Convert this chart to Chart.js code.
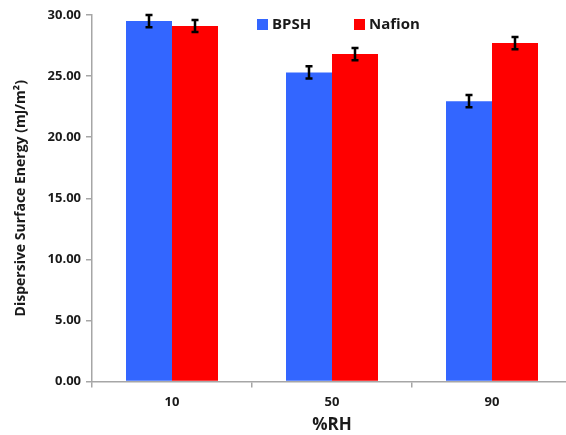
<!DOCTYPE html>
<html>
<head>
<meta charset="utf-8">
<script src="https://cdn.jsdelivr.net/npm/chart.js@4.4.0/dist/chart.umd.min.js"></script>
<style>
  html, body { margin: 0; padding: 0; overflow: hidden; background: #fff; width: 566px; height: 435px; }
  #wrap { position: absolute; left: 0; top: 0; width: 600px; height: 435px; }
</style>
</head>
<body>
<div id="wrap"><canvas id="chart" width="600" height="435"></canvas></div>
<script>
/* ─── Dispersive surface energy vs %RH ─────────────────────────── */

const categories  = ['10', '50', '90'];
const bpshValues  = [29.5, 25.3, 22.95];
const nafionValues = [29.1, 26.8, 27.7];
const bpshErrors  = [0.5, 0.5, 0.5];
const nafionErrors = [0.5, 0.5, 0.5];
const yTicks = [0, 5, 10, 15, 20, 25, 30];

const FONT = "'Open Sans', 'Noto Sans', sans-serif";
const AXIS_GRAY = '#a6a6a6';

// error bars drawn from the bar elements + y scale
const errorBars = {
  id: 'errorBars',
  afterDatasetsDraw(chart) {
    const { ctx } = chart;
    const y = chart.scales.y;
    chart.data.datasets.forEach((ds, i) => {
      const meta = chart.getDatasetMeta(i);
      meta.data.forEach((bar, j) => {
        const v = ds.data[j];
        const e = ds.errors[j];
        const top = y.getPixelForValue(v + e);
        const bot = y.getPixelForValue(v - e);
        ctx.save();
        ctx.strokeStyle = '#000';
        ctx.lineWidth = 2.5;
        ctx.beginPath();
        ctx.moveTo(bar.x, top);
        ctx.lineTo(bar.x, bot);
        ctx.moveTo(bar.x - 3.5, top);
        ctx.lineTo(bar.x + 3.5, top);
        ctx.moveTo(bar.x - 3.5, bot);
        ctx.lineTo(bar.x + 3.5, bot);
        ctx.stroke();
        ctx.restore();
      });
    });
  }
};

// legend sits inside the plot, top middle
const innerLegend = {
  id: 'innerLegend',
  afterDraw(chart) {
    const { ctx } = chart;
    const spots = [257, 354];
    ctx.save();
    ctx.font = `bold 15px ${FONT}`;
    ctx.textBaseline = 'middle';
    chart.data.datasets.forEach((ds, i) => {
      const x = spots[i];
      ctx.fillStyle = ds.backgroundColor;
      ctx.fillRect(x, 19, 11, 11);
      ctx.fillStyle = '#1a1a1a';
      ctx.fillText(ds.label, x + 15, 25);
    });
    ctx.restore();
  }
};

new Chart(document.getElementById('chart'), {
  type: 'bar',
  data: {
    labels: categories,
    datasets: [
      { label: 'BPSH',   data: bpshValues,   errors: bpshErrors,   backgroundColor: '#3366ff' },
      { label: 'Nafion', data: nafionValues, errors: nafionErrors, backgroundColor: '#ff0000' }
    ]
  },
  plugins: [errorBars, innerLegend],
  options: {
    responsive: false,
    animation: false,
    layout: { padding: { top: 15, right: 28, left: 0, bottom: 0 } },
    datasets: { bar: { categoryPercentage: 0.575, barPercentage: 1 } },
    plugins: { legend: { display: false }, tooltip: { enabled: false } },
    scales: {
      x: {
        afterFit: s => { s.height = 53.5; },
        border: { color: AXIS_GRAY, width: 1.5 },
        grid: { drawOnChartArea: false, drawTicks: true, tickLength: 6, color: AXIS_GRAY, lineWidth: 1.5, offset: true },
        ticks: { color: '#1a1a1a', padding: 7, font: { family: FONT, size: 13, weight: 'bold' } },
        title: { display: true, text: '%RH', color: '#1a1a1a', padding: { top: 0, bottom: 0 },
                 font: { family: FONT, size: 17, weight: 'bold' } }
      },
      y: {
        min: 0, max: 30,
        afterFit: s => { s.width = 92; },
        afterBuildTicks: s => { s.ticks = yTicks.map(v => ({ value: v })); },
        border: { color: AXIS_GRAY, width: 1.5 },
        grid: { drawOnChartArea: false, drawTicks: true, tickLength: 6, color: AXIS_GRAY, lineWidth: 1.5 },
        ticks: { color: '#1a1a1a', padding: 5, callback: v => v.toFixed(2),
                 font: { family: FONT, size: 13, weight: 'bold' } },
        title: { display: true, text: 'Dispersive Surface Energy (mJ/m²)', color: '#1a1a1a',
                 padding: { top: 13, bottom: 0 }, font: { family: FONT, size: 14, weight: 'bold' } }
      }
    }
  }
});
</script>
</body>
</html>
